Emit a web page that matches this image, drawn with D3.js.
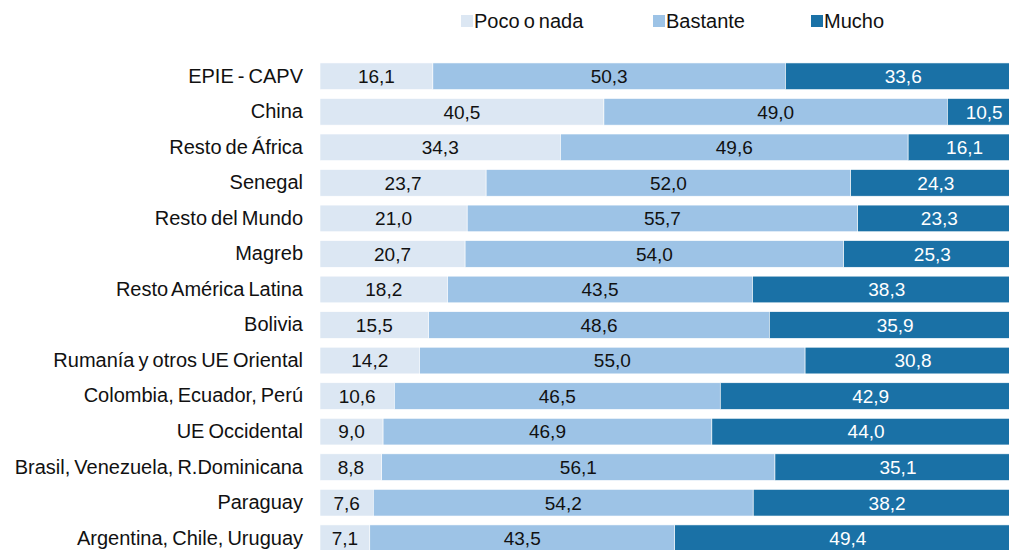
<!DOCTYPE html>
<html>
<head>
<meta charset="utf-8">
<script src="https://cdn.jsdelivr.net/npm/d3@7"></script>
<style>
  html, body { margin: 0; padding: 0; background: #fff; overflow: hidden; }
  svg { display: block; font-family: "Liberation Sans", Arial, sans-serif; }
</style>
</head>
<body>
<svg id="chart" width="1009" height="550"></svg>
<script>
// Grupos de origen (de arriba abajo)
const categories = [
  "EPIE - CAPV",
  "China",
  "Resto de África",
  "Senegal",
  "Resto del Mundo",
  "Magreb",
  "Resto América Latina",
  "Bolivia",
  "Rumanía y otros UE Oriental",
  "Colombia, Ecuador, Perú",
  "UE Occidental",
  "Brasil, Venezuela, R.Dominicana",
  "Paraguay",
  "Argentina, Chile, Uruguay"
];
const seriesNames = ["Poco o nada", "Bastante", "Mucho"];
const pocoNada = [16.1, 40.5, 34.3, 23.7, 21.0, 20.7, 18.2, 15.5, 14.2, 10.6, 9.0, 8.8, 7.6, 7.1];
const bastante = [50.3, 49.0, 49.6, 52.0, 55.7, 54.0, 43.5, 48.6, 55.0, 46.5, 46.9, 56.1, 54.2, 43.5];
const mucho    = [33.6, 10.5, 16.1, 24.3, 23.3, 25.3, 38.3, 35.9, 30.8, 42.9, 44.0, 35.1, 38.2, 49.4];

const colors = ["#dce7f3", "#9dc3e6", "#1a71a6"];
const labelColors = ["#111111", "#111111", "#ffffff"];

const rows = categories.map((c, i) => ({ cat: c, "Poco o nada": pocoNada[i], "Bastante": bastante[i], "Mucho": mucho[i] }));
const stacked = d3.stack().keys(seriesNames)(rows);

const svg = d3.select("#chart");

// Plot area (extends past the right and bottom edges of the view)
const x = d3.scaleLinear().domain([0, 100]).range([320, 1021]);
const y = d3.scaleBand().domain(categories).range([58.5, 556]).paddingInner(0.25).paddingOuter(0.125);

const fmt = v => d3.format(".1f")(v).replace(".", ",");

const layers = svg.append("g").selectAll("g")
  .data(stacked).join("g")
  .attr("fill", (d, i) => colors[i]);

layers.selectAll("rect")
  .data(d => d.map(p => ({ p, key: d.key })))
  .join("rect")
  .attr("x", d => x(d.p[0]))
  .attr("width", d => x(d.p[1]) - x(d.p[0]))
  .attr("y", d => y(d.p.data.cat))
  .attr("height", y.bandwidth())
  .attr("stroke", "#ffffff")
  .attr("stroke-width", 0.6);

// Value labels centred in each segment
stacked.forEach((layer, li) => {
  svg.append("g").selectAll("text")
    .data(layer).join("text")
    .attr("x", p => (x(p[0]) + x(p[1])) / 2)
    .attr("y", p => y(p.data.cat) + y.bandwidth() / 2)
    .attr("dy", "0.36em")
    .attr("text-anchor", "middle")
    .attr("font-size", 19)
    .attr("fill", labelColors[li])
    .text(p => fmt(p[1] - p[0]));
});

// Category axis
const yAxis = d3.axisLeft(y).tickSize(0).tickPadding(17);
const ga = svg.append("g").attr("transform", "translate(320,0)").call(yAxis);
ga.select(".domain").remove();
ga.selectAll("text").attr("font-size", 20).attr("fill", "#111111")
  .attr("font-family", "Liberation Sans, Arial, sans-serif")
  .attr("word-spacing", -1.5);

// Legend
const legendX = [461, 653, 811];
const lg = svg.append("g").selectAll("g")
  .data(seriesNames).join("g")
  .attr("transform", (d, i) => `translate(${legendX[i]},21)`);
lg.append("rect").attr("x", 0).attr("y", -6).attr("width", 12).attr("height", 12)
  .attr("fill", (d, i) => colors[i]);
lg.append("text").attr("x", 13).attr("dy", "0.36em").attr("font-size", 20)
  .attr("fill", "#111111").attr("word-spacing", -1.5).text(d => d);
</script>
</body>
</html>
